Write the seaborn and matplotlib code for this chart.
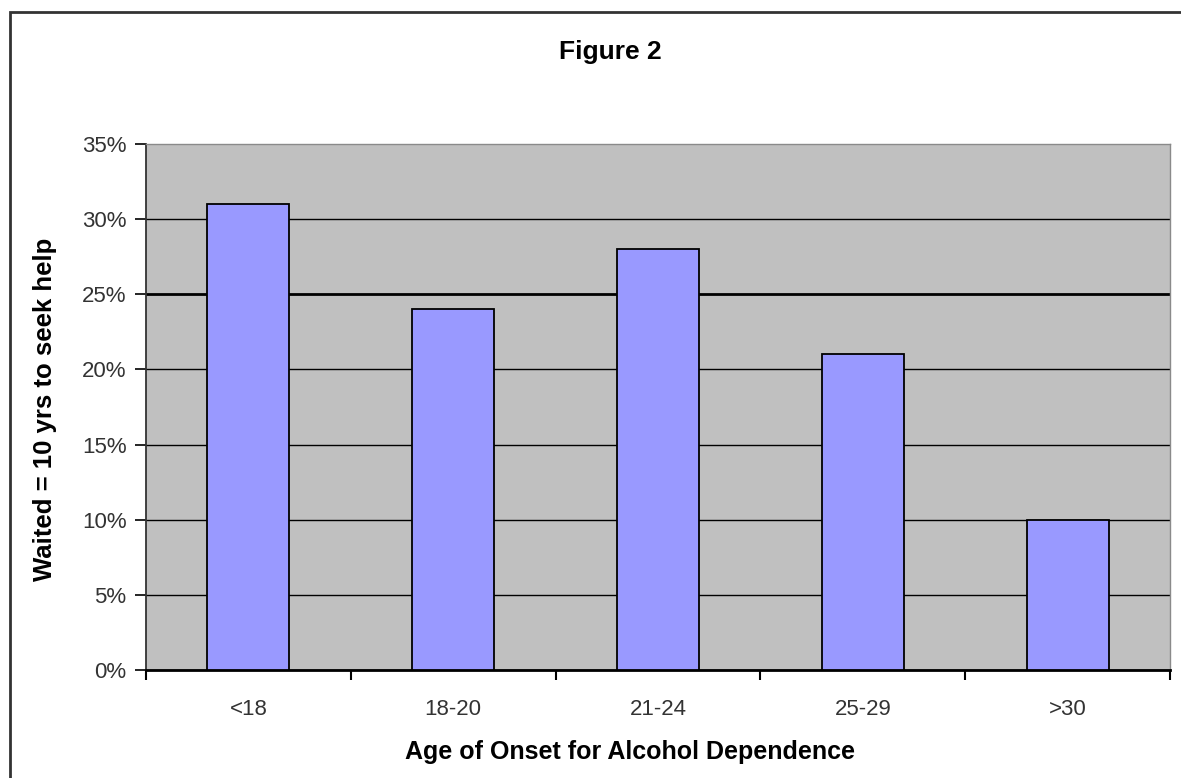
import matplotlib
matplotlib.use("Agg")
import matplotlib.pyplot as plt
import seaborn as sns
import pandas as pd
from matplotlib.patches import Rectangle
from matplotlib.ticker import FixedLocator, PercentFormatter

# Data
age_groups = ["<18", "18-20", "21-24", "25-29", ">30"]
pct_waited = [0.31, 0.24, 0.28, 0.21, 0.10]
y_ticks = [0.0, 0.05, 0.10, 0.15, 0.20, 0.25, 0.30, 0.35]

df = pd.DataFrame({"age": age_groups, "pct": pct_waited})

sns.set_theme(style="white")
plt.rcParams["font.family"] = ["Liberation Sans", "DejaVu Sans"]

fig = plt.figure(figsize=(11.81, 7.78), dpi=100)
ax = fig.add_axes([146 / 1181, 1 - 670 / 778, 1024 / 1181, 526 / 778])
ax.set_facecolor("#C0C0C0")

sns.barplot(data=df, x="age", y="pct", order=age_groups, color="#9999FF",
            width=0.4, edgecolor="black", linewidth=1.3, saturation=1, ax=ax,
            zorder=3)

ax.set_xlim(-0.5, len(age_groups) - 0.5)
ax.set_ylim(0, 0.35)

# Y axis: percentage ticks with black gridlines
ax.yaxis.set_major_locator(FixedLocator(y_ticks))
ax.yaxis.set_major_formatter(PercentFormatter(1.0, decimals=0))
ax.grid(axis="y", color="black", linewidth=1.0, zorder=1)
ax.set_axisbelow(True)
for val, gl in zip(y_ticks, ax.get_ygridlines()):
    if abs(val - 0.25) < 1e-9:
        gl.set_linewidth(2.0)
    if abs(val - 0.35) < 1e-9:
        gl.set_visible(False)

# X axis: tick marks between categories, labels centred under bars
ax.xaxis.set_major_locator(FixedLocator([i - 0.5 for i in range(len(age_groups) + 1)]))
ax.xaxis.set_major_formatter(plt.NullFormatter())
ax.set_xticks(list(range(len(age_groups))), minor=True)
ax.set_xticklabels(age_groups, minor=True)
ax.tick_params(axis="x", which="major", direction="out", length=7, width=1.5,
               color="black", bottom=True)
ax.tick_params(axis="x", which="minor", length=0, pad=21, labelsize=16,
               labelcolor="#333333")
ax.tick_params(axis="y", which="major", direction="out", length=8, width=1.2,
               color="black", left=True, pad=6, labelsize=16,
               labelcolor="#333333")

for side in ("top", "right"):
    ax.spines[side].set_color("#8a8a8a")
    ax.spines[side].set_linewidth(1.0)
ax.spines["left"].set_color("#333333")
ax.spines["left"].set_linewidth(1.3)
ax.spines["bottom"].set_color("black")
ax.spines["bottom"].set_linewidth(2.0)

ax.set_xlabel("")
ax.set_ylabel("")

# Titles and axis labels
fig.text(610 / 1181, 1 - 52 / 778, "Figure 2", ha="center", va="center",
         fontsize=19, fontweight="bold", color="black")
fig.text(630 / 1181, 1 - 752 / 778, "Age of Onset for Alcohol Dependence",
         ha="center", va="center", fontsize=18, fontweight="bold",
         color="black")
fig.text(45 / 1181, 1 - 409 / 778, "Waited = 10 yrs to seek help",
         ha="center", va="center", rotation=90, fontsize=18.5,
         fontweight="bold", color="black")

# Chart area frame
fig.patches.append(Rectangle((10 / 1181, -0.05), 1.2, 1.05 - 12 / 778,
                             transform=fig.transFigure, fill=False,
                             edgecolor="#333333", linewidth=2.0))

fig.savefig("out.png", dpi=100, facecolor="white")
